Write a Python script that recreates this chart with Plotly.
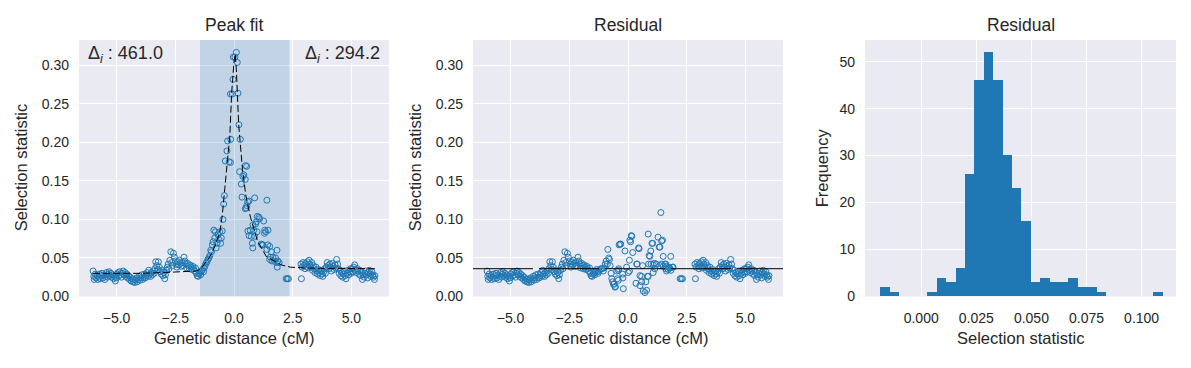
import numpy as np
import plotly.graph_objects as go

# ---------------- data ----------------
# shared outer points (both panels)
left_x = [-6.00, -5.97, -5.95, -5.91, -5.88, -5.84, -5.80, -5.76, -5.73, -5.69,
          -5.65, -5.62, -5.58, -5.54, -5.50, -5.46, -5.43, -5.39, -5.35, -5.32,
          -5.28, -5.24, -5.20, -5.16, -5.13, -5.09, -5.05, -5.02, -4.98, -4.94,
          -4.90, -4.87, -4.83, -4.79, -4.75, -4.72, -4.68, -4.64, -4.60, -4.57,
          -4.53, -4.49, -4.45, -4.42, -4.38, -4.34, -4.30, -4.27, -4.23, -4.19,
          -4.15, -4.12, -4.08, -4.04, -4.00, -3.97, -3.93, -3.89, -3.85, -3.82,
          -3.78, -3.74, -3.70, -3.67, -3.63, -3.59, -3.55, -3.52, -3.48, -3.44,
          -3.40, -3.37, -3.33, -3.29, -3.25, -3.22, -3.18, -3.14, -3.10, -3.07,
          -3.03, -2.99, -2.95, -2.92, -2.88, -2.84, -2.80, -2.77, -2.73, -2.69,
          -2.65, -2.62, -2.58, -2.54, -2.50, -2.47, -2.43, -2.39, -2.35, -2.32,
          -2.28, -2.24, -2.20, -2.17, -2.13, -2.09, -2.05, -2.02, -1.98, -1.94,
          -1.90, -1.87, -1.83, -1.79, -1.75, -1.72, -1.68, -1.64, -1.60, -1.57,
          -1.53, -1.49, -1.45, -1.42, -1.38, -1.34, -1.30]
left_y = [0.033, 0.026, 0.022, 0.029, 0.024, 0.027, 0.022, 0.025, 0.029, 0.023,
          0.027, 0.030, 0.024, 0.028, 0.022, 0.026, 0.031, 0.025, 0.029, 0.032,
          0.027, 0.030, 0.025, 0.028, 0.023, 0.026, 0.020, 0.024, 0.029, 0.031,
          0.027, 0.032, 0.028, 0.025, 0.030, 0.033, 0.028, 0.031, 0.026, 0.029,
          0.024, 0.027, 0.022, 0.025, 0.020, 0.023, 0.019, 0.022, 0.018, 0.021,
          0.024, 0.019, 0.022, 0.026, 0.021, 0.024, 0.028, 0.022, 0.025, 0.029,
          0.024, 0.027, 0.031, 0.026, 0.034, 0.029, 0.026, 0.031, 0.028, 0.033,
          0.030, 0.036, 0.045, 0.040, 0.035, 0.045, 0.038, 0.032, 0.029, 0.034,
          0.027, 0.031, 0.023, 0.028, 0.034, 0.038, 0.042, 0.036, 0.047, 0.058,
          0.044, 0.040, 0.056, 0.051, 0.046, 0.042, 0.038, 0.045, 0.041, 0.047,
          0.043, 0.039, 0.044, 0.040, 0.051, 0.046, 0.042, 0.037, 0.043, 0.040,
          0.036, 0.041, 0.038, 0.035, 0.039, 0.036, 0.033, 0.037, 0.030, 0.027,
          0.026, 0.029, 0.031, 0.028, 0.033, 0.035, 0.032]

right_x = [2.22, 2.27, 2.32, 2.87, 2.85, 2.90, 2.94, 2.98, 3.02, 3.05,
           3.09, 3.13, 3.16, 3.20, 3.23, 3.27, 3.31, 3.34, 3.38, 3.42,
           3.45, 3.49, 3.53, 3.56, 3.60, 3.64, 3.67, 3.71, 3.75, 3.78,
           3.82, 3.86, 3.89, 3.93, 3.97, 4.00, 4.04, 4.08, 4.11, 4.15,
           4.19, 4.22, 4.26, 4.30, 4.33, 4.37, 4.41, 4.44, 4.48, 4.52,
           4.55, 4.59, 4.63, 4.66, 4.70, 4.74, 4.77, 4.81, 4.85, 4.88,
           4.92, 4.96, 4.99, 5.03, 5.07, 5.10, 5.14, 5.17, 5.21, 5.25,
           5.28, 5.32, 5.36, 5.39, 5.43, 5.47, 5.50, 5.54, 5.58, 5.61,
           5.65, 5.69, 5.72, 5.76, 5.80, 5.83, 5.87, 5.91, 5.94, 5.98, 6.00]
right_y = [0.023, 0.023, 0.023, 0.023, 0.042, 0.038, 0.044, 0.040, 0.036, 0.043,
           0.039, 0.045, 0.037, 0.047, 0.042, 0.038, 0.044, 0.034, 0.040, 0.036,
           0.031, 0.038, 0.033, 0.029, 0.035, 0.031, 0.027, 0.033, 0.029, 0.026,
           0.032, 0.036, 0.030, 0.038, 0.044, 0.040, 0.036, 0.042, 0.038, 0.033,
           0.043, 0.039, 0.035, 0.041, 0.037, 0.048, 0.042, 0.036, 0.030, 0.034,
           0.027, 0.031, 0.025, 0.029, 0.033, 0.027, 0.023, 0.030, 0.034, 0.028,
           0.032, 0.036, 0.030, 0.036, 0.032, 0.038, 0.041, 0.035, 0.031, 0.036,
           0.033, 0.029, 0.034, 0.027, 0.031, 0.022, 0.028, 0.025, 0.030, 0.033,
           0.028, 0.024, 0.031, 0.034, 0.029, 0.026, 0.032, 0.028, 0.025, 0.022, 0.027]

# central points, peak-fit panel
peak_x = [-1.27, -1.23, -1.19, -1.15, -1.11, -1.07, -1.03, -0.99, -0.96, -0.92,
          -0.89, -0.86, -0.82, -0.79, -0.76, -0.72, -0.68, -0.65, -0.61, -0.57,
          -0.54, -0.50, -0.47, -0.44, -0.41, -0.37, -0.30, -0.27, -0.21, -0.15,
          -0.14, -0.15, -0.07, -0.04, -0.03, 0.04, 0.10, 0.14, 0.17, 0.21,
          0.27, 0.24, 0.31, 0.34, 0.38, 0.42, 0.48, 0.49, 0.54, 0.48,
          0.52, 0.58, 0.55, 0.59, 0.64, 0.69, 0.64, 0.74, 0.78, 0.80,
          0.81, 0.84, 0.88, 0.88, 0.92, 0.95, 0.98, 0.99, 1.06, 1.09,
          1.16, 1.19, 1.23, 1.26, 1.30, 1.31, 1.35, 1.40, 1.40, 1.45,
          1.44, 1.52, 1.52, 1.55, 1.59, 1.62, 1.66, 1.73, 1.77, 1.80,
          1.83, 1.84, 1.87, 1.92]
peak_y = [0.037, 0.040, 0.043, 0.045, 0.048, 0.050, 0.053, 0.060, 0.058, 0.067,
          0.071, 0.086, 0.076, 0.084, 0.063, 0.069, 0.080, 0.074, 0.084, 0.069,
          0.076, 0.085, 0.100, 0.120, 0.131, 0.176, 0.189, 0.202, 0.175, 0.174,
          0.204, 0.263, 0.263, 0.282, 0.311, 0.311, 0.317, 0.304, 0.264, 0.223,
          0.204, 0.162, 0.146, 0.129, 0.156, 0.158, 0.152, 0.170, 0.169, 0.114,
          0.115, 0.123, 0.118, 0.085, 0.079, 0.086, 0.124, 0.078, 0.069, 0.063,
          0.093, 0.086, 0.128, 0.078, 0.094, 0.097, 0.084, 0.104, 0.103, 0.101,
          0.068, 0.067, 0.067, 0.098, 0.082, 0.086, 0.084, 0.125, 0.061, 0.086,
          0.067, 0.065, 0.048, 0.051, 0.058, 0.046, 0.051, 0.046, 0.050, 0.044,
          0.060, 0.038, 0.046, 0.044]

# central points, residual panel
res_x = [-1.27, -1.23, -1.19, -1.14, -1.10, -1.05, -1.03, -0.97, -0.93, -0.88,
         -0.86, -0.82, -0.79, -0.76, -0.72, -0.69, -0.65, -0.62, -0.59, -0.55,
         -0.54, -0.48, -0.45, -0.41, -0.41, -0.40, -0.38, -0.34, -0.31, -0.23,
         -0.22, -0.20, -0.13, -0.06, 0.01, 0.06, 0.06, 0.08, 0.11, 0.14,
         0.16, 0.20, 0.34, 0.37, 0.39, 0.45, 0.47, 0.51, 0.51, 0.58,
         0.58, 0.62, 0.65, 0.72, 0.76, 0.79, 0.83, 0.86, 0.86, 0.88,
         0.90, 0.93, 0.97, 0.98, 1.02, 1.05, 1.07, 1.07, 1.12, 1.14,
         1.21, 1.28, 1.33, 1.36, 1.36, 1.40, 1.43, 1.43, 1.47, 1.50,
         1.50, 1.57, 1.60, 1.61, 1.64, 1.64, 1.71, 1.73, 1.78, 1.82,
         1.83, 1.89, 1.92]
res_y = [0.030, 0.033, 0.035, 0.036, 0.036, 0.033, 0.037, 0.042, 0.046, 0.042,
         0.061, 0.050, 0.048, 0.040, 0.030, 0.023, 0.019, 0.016, 0.016, 0.012,
         0.013, 0.033, 0.023, 0.021, 0.034, 0.036, 0.067, 0.068, 0.068, 0.029,
         0.024, 0.010, 0.059, 0.038, 0.031, 0.047, 0.033, 0.073, 0.071, 0.079,
         0.078, 0.057, 0.017, 0.042, 0.042, 0.063, 0.062, 0.027, 0.014, 0.019,
         0.026, 0.040, 0.007, 0.005, 0.019, 0.008, 0.026, 0.081, 0.026, 0.042,
         0.053, 0.052, 0.059, 0.042, 0.069, 0.069, 0.031, 0.041, 0.043, 0.036,
         0.042, 0.077, 0.064, 0.064, 0.040, 0.109, 0.072, 0.042, 0.073, 0.052,
         0.039, 0.042, 0.036, 0.042, 0.039, 0.033, 0.035, 0.038, 0.037, 0.052,
         0.034, 0.038, 0.038]

# fitted peak curve (dashed)
fit_x = [-6.0, -4.0, -3.0, -2.0, -1.6, -1.4, -1.2, -1.0, -0.8, -0.6, -0.5,
         -0.41, -0.3, -0.18, -0.1, 0.0, 0.05, 0.1, 0.2, 0.36, 0.5, 0.7, 1.0,
         1.37, 1.7, 2.0, 2.4, 3.0, 4.0, 6.0]
fit_y = [0.030, 0.030, 0.031, 0.032, 0.033, 0.036, 0.045, 0.053, 0.066, 0.084, 0.105,
         0.131, 0.170, 0.207, 0.264, 0.305, 0.315, 0.295, 0.223, 0.165, 0.132, 0.103, 0.072,
         0.052, 0.046, 0.041, 0.038, 0.037, 0.0365, 0.036]

resid_baseline = 0.036
span_lo, span_hi = -1.45, 2.36
delta_left, delta_right = 461.0, 294.2

# histogram of residuals
hist_counts = [2, 1, 0, 0, 0, 1, 4, 3, 6, 26, 46, 52, 46, 30, 23, 16, 3, 4, 3, 3,
               4, 2, 2, 1, 0, 0, 0, 0, 0, 1]
hist_start = -0.0186
hist_end = 0.1095

# ---------------- figure ----------------
BLUE = "#1f77b4"
TXT = "#262626"
BG = "#EAEAF2"
FONT = "Liberation Sans, Arial, sans-serif"
W, H = 1191, 368
Y_TOP = 0.333

def px_x(p):
    return p / W

def px_y(p):
    return 1 - p / H

dom_y = [px_y(303), px_y(41)]
dom1 = [px_x(79), px_x(389)]
dom2 = [px_x(473), px_x(783)]
dom3 = [px_x(865), px_x(1176)]

fig = go.Figure()

marker = dict(symbol="circle-open", size=6, color=BLUE, line=dict(width=1, color=BLUE))

# shaded peak window (drawn as a filled trace so grid shows through it)
fig.add_trace(go.Scatter(x=[span_lo, span_hi, span_hi, span_lo, span_lo],
                         y=[0, 0, Y_TOP, Y_TOP, 0], mode="lines", fill="toself",
                         fillcolor="rgba(31,119,180,0.2)", line=dict(width=0),
                         hoverinfo="skip", xaxis="x", yaxis="y", showlegend=False))
fig.add_trace(go.Scatter(x=left_x + peak_x + right_x, y=left_y + peak_y + right_y,
                         mode="markers", marker=marker, xaxis="x", yaxis="y",
                         showlegend=False))
fig.add_trace(go.Scatter(x=fit_x, y=fit_y, mode="lines",
                         line=dict(color="black", width=1, dash="7px,3px"),
                         xaxis="x", yaxis="y", showlegend=False))
fig.add_trace(go.Scatter(x=left_x + res_x + right_x, y=left_y + res_y + right_y,
                         mode="markers", marker=marker, xaxis="x2", yaxis="y2",
                         showlegend=False))

edges = np.linspace(hist_start, hist_end, len(hist_counts) + 1)
centers = (edges[:-1] + edges[1:]) / 2
bw = edges[1] - edges[0]
fig.add_trace(go.Bar(x=centers, y=hist_counts, width=bw, marker=dict(color=BLUE, line=dict(width=0)),
                     xaxis="x3", yaxis="y3", showlegend=False))

axis_common = dict(showgrid=True, gridcolor="white", gridwidth=1.2, zeroline=False,
                   showline=False, ticks="", tickfont=dict(family=FONT, size=14, color=TXT))
XS, YS = 12, 9

fig.update_layout(
    width=W, height=H, margin=dict(l=0, r=0, t=0, b=0),
    paper_bgcolor="white", plot_bgcolor=BG, bargap=0,
    xaxis=dict(domain=dom1, range=[-6.6, 6.6], tickvals=[-5, -2.5, 0, 2.5, 5], tickformat=".1f",
               anchor="y", ticklabelstandoff=XS, **axis_common),
    yaxis=dict(domain=dom_y, range=[0, Y_TOP], tickvals=[0, 0.05, 0.1, 0.15, 0.2, 0.25, 0.3],
               tickformat=".2f", anchor="x", ticklabelstandoff=YS, **axis_common),
    xaxis2=dict(domain=dom2, range=[-6.6, 6.6], tickvals=[-5, -2.5, 0, 2.5, 5], tickformat=".1f",
                anchor="y2", ticklabelstandoff=XS, **axis_common),
    yaxis2=dict(domain=dom_y, range=[0, Y_TOP], tickvals=[0, 0.05, 0.1, 0.15, 0.2, 0.25, 0.3],
                tickformat=".2f", anchor="x2", ticklabelstandoff=YS, **axis_common),
    xaxis3=dict(domain=dom3, range=[-0.0255, 0.1156], tickvals=[0, 0.025, 0.05, 0.075, 0.1],
                tickformat=".3f", anchor="y3", ticklabelstandoff=XS, **axis_common),
    yaxis3=dict(domain=dom_y, range=[0, 54.6], tickvals=[0, 10, 20, 30, 40, 50],
                anchor="x3", ticklabelstandoff=YS, **axis_common),
)

fig.add_shape(type="line", xref="x2 domain", yref="y2", x0=0, x1=1,
              y0=resid_baseline, y1=resid_baseline,
              line=dict(color="black", width=1, dash="60px,6px"))

def ann(text, x, y, size, xanchor="center", yanchor="middle", angle=0, xref="paper", yref="paper"):
    fig.add_annotation(text=text, x=x, y=y, xref=xref, yref=yref, showarrow=False,
                       xanchor=xanchor, yanchor=yanchor, textangle=angle,
                       font=dict(family=FONT, size=size, color=TXT))

# titles
ann("Peak fit", px_x(234), px_y(26), 17.5)
ann("Residual", px_x(628), px_y(26), 17.5)
ann("Residual", px_x(1020.5), px_y(26), 17.5)
# axis titles
ann("Genetic distance (cM)", px_x(234), px_y(345), 16.5)
ann("Genetic distance (cM)", px_x(628), px_y(345), 16.5)
ann("Selection statistic", px_x(1020.5), px_y(345), 16.5)
ann("Selection statistic", px_x(21), px_y(172), 16.5, angle=-90)
ann("Selection statistic", px_x(415), px_y(172), 16.5, angle=-90)
ann("Frequency", px_x(822), px_y(172), 16.5, angle=-90)
# delta annotations
ann("Δ<sub><i>i</i></sub> : %.1f" % delta_left, 0.022, 0.945, 18, xanchor="left",
    xref="x domain", yref="y domain")
ann("Δ<sub><i>i</i></sub> : %.1f" % delta_right, 0.978, 0.945, 18, xanchor="right",
    xref="x domain", yref="y domain")

# make the page exactly the size of the figure (no default body margin / overflow)
page_js = ("var d=document.documentElement,b=document.body;"
           "d.style.margin='0';b.style.margin='0';"
           "d.style.overflow='hidden';b.style.overflow='hidden';"
           "d.style.height='368px';b.style.height='368px';")
fig.write_html("out.html", config={"displayModeBar": False}, post_script=page_js)
